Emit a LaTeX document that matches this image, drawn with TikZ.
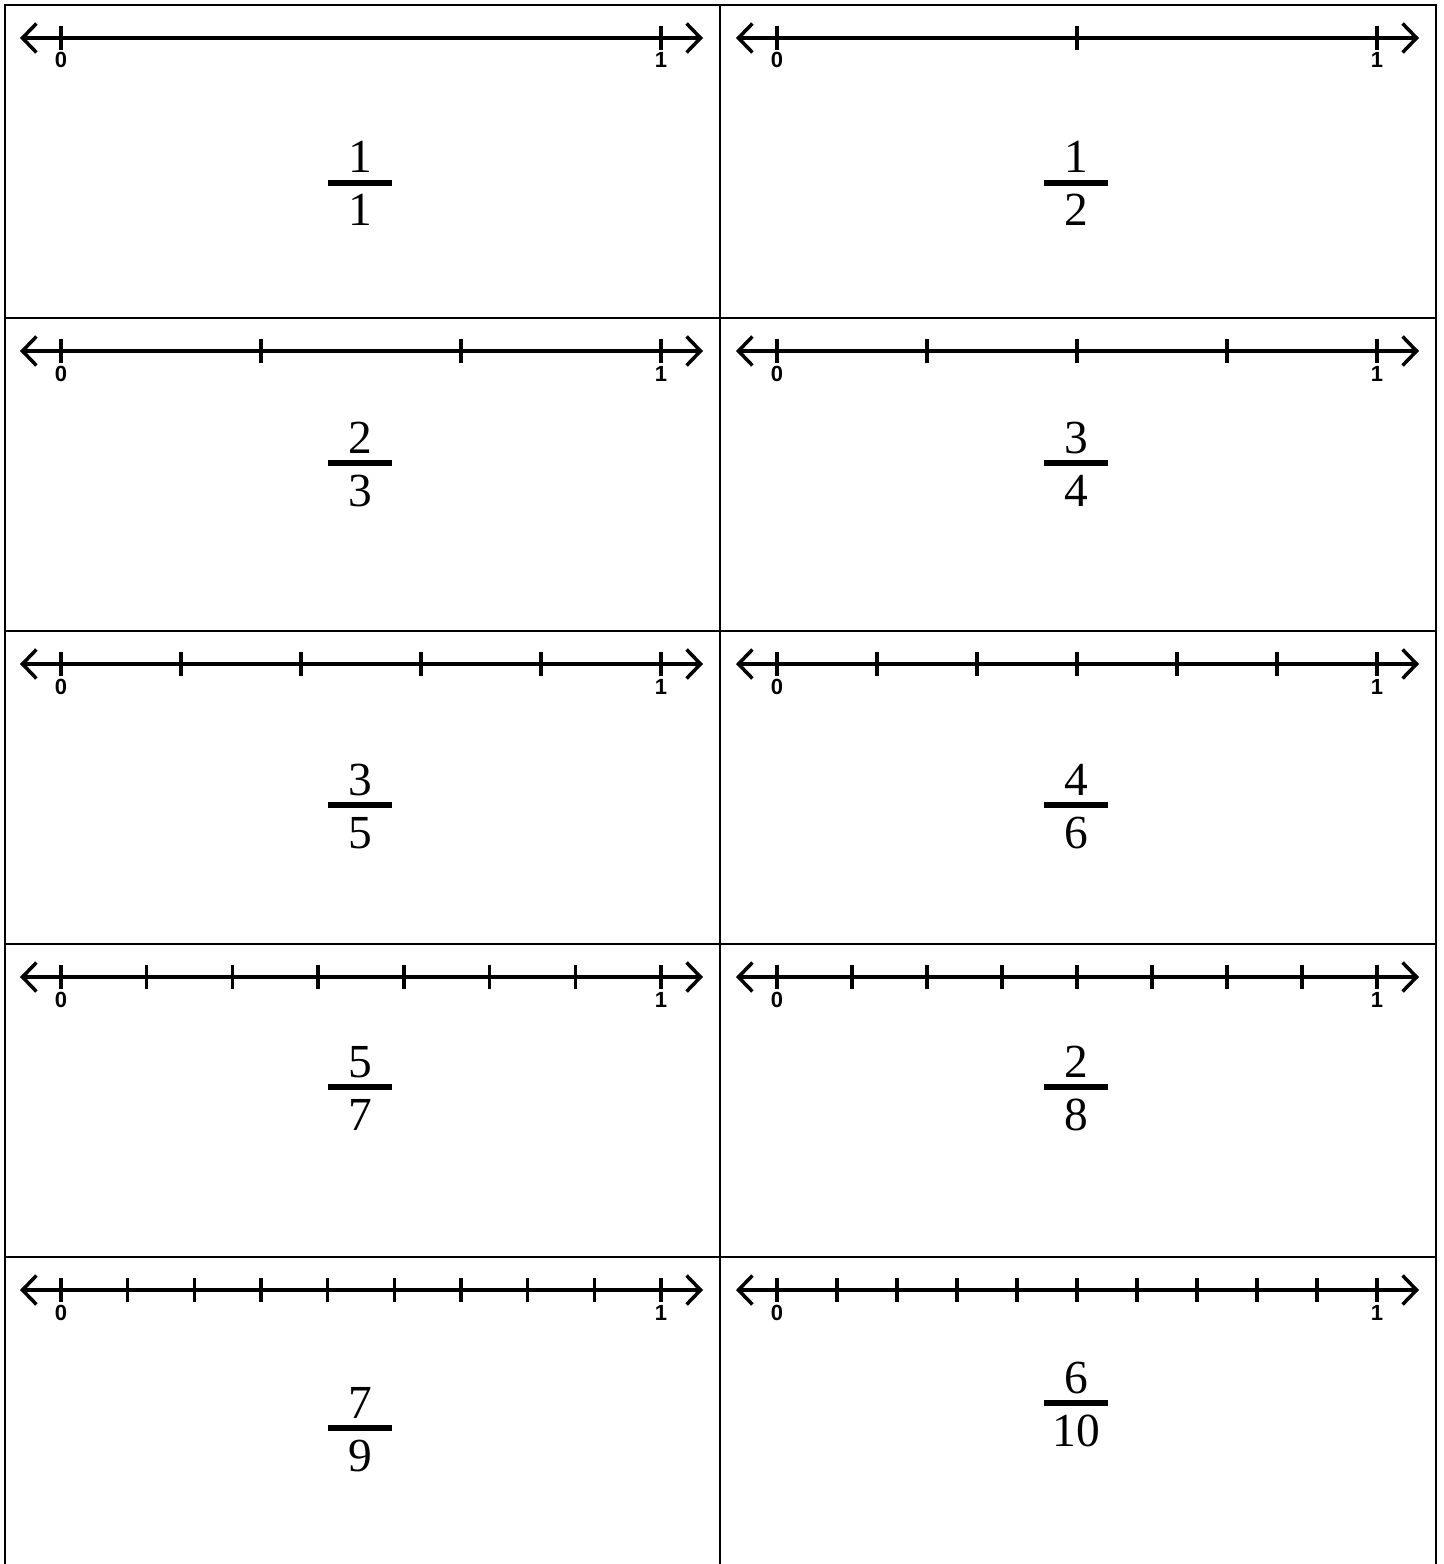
\documentclass[tikz,border=0pt]{standalone}
\usepackage{fontspec}
\newfontfamily\tickfont{Liberation Sans}
\newfontfamily\fracfont{Liberation Serif}
\usetikzlibrary{arrows.meta}

\begin{document}
\begin{tikzpicture}[x=0.02cm, y=-0.02cm,
    grid/.style={draw=black, line width=1.3pt},
    numline/.style={{Straight Barb[length=0.28cm, width=0.58cm]}-{Straight Barb[length=0.28cm, width=0.58cm]}, line width=2pt},
    tick/.style={line width=1.9pt},
    ticklabel/.style={font=\tickfont\bfseries\fontsize{12.5}{14}\selectfont, anchor=base, inner sep=0pt},
    fracbar/.style={line width=2.9pt},
    digit/.style={font=\fracfont\fontsize{27}{30}\selectfont, anchor=base, inner sep=0pt}
]
    \useasboundingbox (0,0) rectangle (1443,1564);

    % Cards
    \draw[grid] (5,1570) -- (5,5) -- (1436,5) -- (1436,1570);
    \draw[grid] (720,5) -- (720,1570);
    \foreach \gy in {318,631,944,1257}
        \draw[grid] (5,\gy) -- (1436,\gy);

    % Number lines and fractions
    \foreach \col/\row/\np/\nm/\dn/\fy [count=\i] in {0/0/1/1/1/178, 1/0/2/1/2/178,
        0/1/3/2/3/145, 1/1/4/3/4/145, 0/2/5/3/5/174, 1/2/6/4/6/174,
        0/3/7/5/7/143, 1/3/8/2/8/143, 0/4/9/7/9/171, 1/4/10/6/10/146} {
        \pgfmathsetmacro\zx{61+716*\col}
        \pgfmathsetmacro\ly{38+313*\row}
        \pgfmathsetmacro\cx{360+716*\col}
        \pgfmathsetmacro\by{5+313*\row+\fy}
        \coordinate (l\i) at (\zx-41,\ly);
        \coordinate (r\i) at (\zx+642,\ly);
        \draw[numline] (l\i) -- (r\i);
        \foreach \k in {0,...,\np}
            \draw[tick] (\zx+600*\k/\np,\ly-12) -- ++(0,24);
        \node[ticklabel] (zero\i) at (\zx,\ly+30) {0};
        \node[ticklabel] (one\i) at (\zx+600,\ly+30) {1};
        \draw[fracbar] (\cx-32,\by) -- (\cx+32,\by);
        \node[digit] (num\i) at (\cx,\by-10) {\nm};
        \node[digit] (den\i) at (\cx,\by+43) {\dn};
    }
\end{tikzpicture}
\end{document}
